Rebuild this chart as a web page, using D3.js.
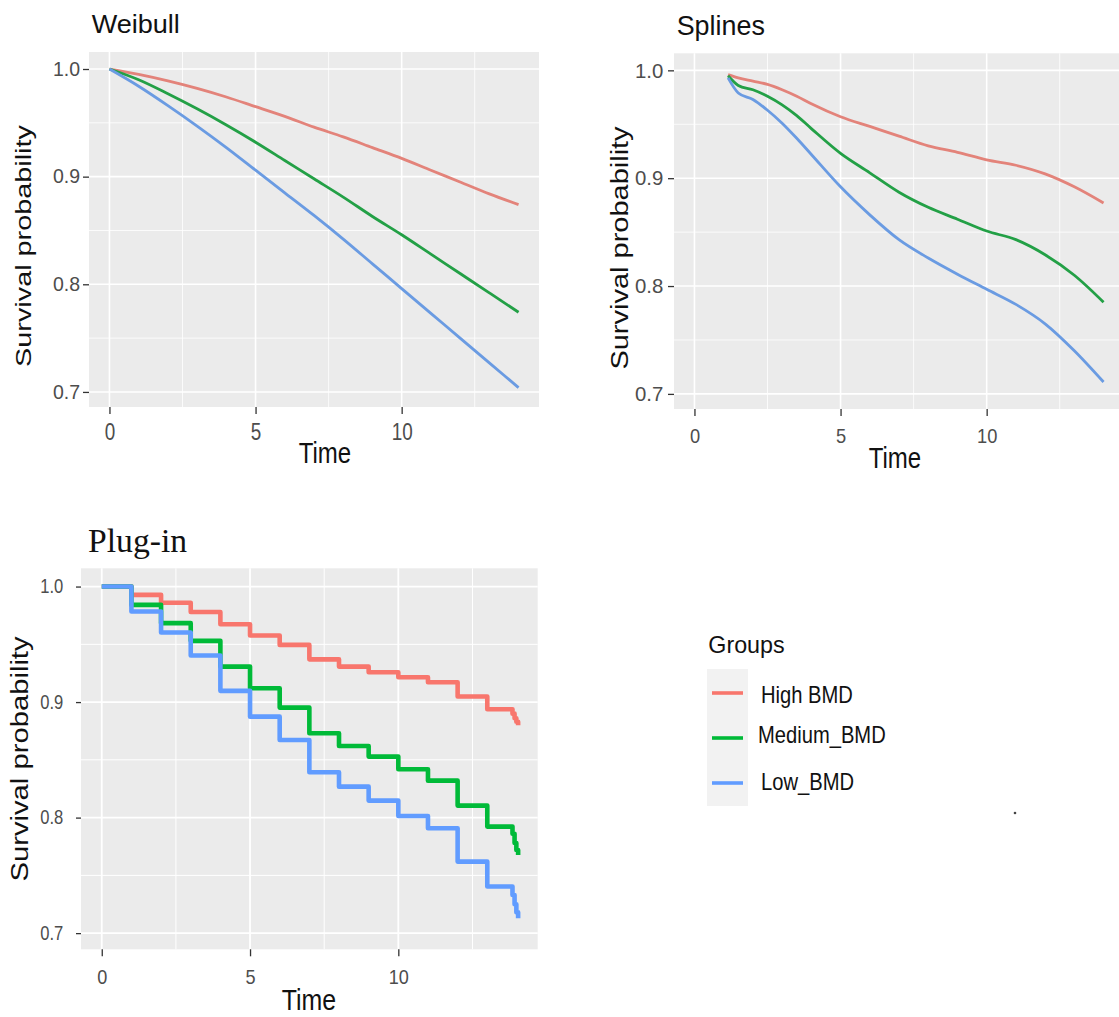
<!DOCTYPE html>
<html><head><meta charset="utf-8">
<script src="https://cdn.jsdelivr.net/npm/d3@7"></script>
<style>body{margin:0;background:#fff}svg{display:block}</style>
</head><body><svg id="chart" width="1119" height="1017"></svg>
<script>
// ---------- data ----------
const groups = ["High BMD", "Medium_BMD", "Low_BMD"];
const xTicks = [0, 5, 10];
const xMinor = [2.5, 7.5, 12.5];
const yTicks = [0.7, 0.8, 0.9, 1.0];
const yMinor = [0.75, 0.85, 0.95];
const xDomain = [-0.7, 14.7];
const yDomain = [0.686, 1.0158];

const weibullTime   = [0, 1, 2, 3, 4, 5, 6, 7, 8, 9, 10, 11, 12, 13, 14];
const weibullHigh   = [1.000, 0.995, 0.989, 0.982, 0.974, 0.965, 0.956, 0.946, 0.937, 0.927, 0.917, 0.906, 0.895, 0.884, 0.874];
const weibullMedium = [1.000, 0.990, 0.977, 0.963, 0.948, 0.932, 0.915, 0.898, 0.881, 0.863, 0.846, 0.828, 0.810, 0.792, 0.774];
const weibullLow    = [1.000, 0.984, 0.966, 0.947, 0.927, 0.906, 0.885, 0.864, 0.842, 0.819, 0.796, 0.773, 0.750, 0.727, 0.704];

const splineTime   = [1.15, 1.5, 2, 2.5, 3, 3.5, 4, 5, 6, 7, 8, 9, 10, 11, 12, 13, 14];
const splineHigh   = [0.996, 0.993, 0.990, 0.987, 0.982, 0.976, 0.969, 0.957, 0.948, 0.939, 0.930, 0.924, 0.917, 0.912, 0.904, 0.892, 0.877];
const splineMedium = [0.995, 0.986, 0.982, 0.976, 0.968, 0.958, 0.946, 0.923, 0.905, 0.887, 0.873, 0.862, 0.851, 0.843, 0.829, 0.810, 0.785];
const splineLow    = [0.993, 0.979, 0.973, 0.963, 0.951, 0.937, 0.922, 0.892, 0.866, 0.843, 0.826, 0.811, 0.797, 0.783, 0.765, 0.740, 0.711];

const plugTime   = [0, 1, 2, 3, 4, 5, 6, 7, 8, 9, 10, 11, 12, 13, 13.85, 13.92, 13.98, 14.04];
const plugHigh   = [1.000, 0.9928, 0.986, 0.978, 0.9674, 0.9576, 0.9495, 0.937, 0.9307, 0.9258, 0.9215, 0.9172, 0.9048, 0.8938, 0.890, 0.886, 0.883, 0.880];
const plugMedium = [1.000, 0.9841, 0.9683, 0.953, 0.9307, 0.912, 0.8952, 0.873, 0.862, 0.8528, 0.8418, 0.832, 0.8104, 0.7922, 0.786, 0.778, 0.772, 0.7677];
const plugLow    = [1.000, 0.9784, 0.9602, 0.9403, 0.9097, 0.8874, 0.8672, 0.8392, 0.8268, 0.8147, 0.8014, 0.7908, 0.7619, 0.7403, 0.733, 0.725, 0.718, 0.7128];

// ---------- styling / layout ----------
const SANS = "'Liberation Sans', Arial, sans-serif";
const SERIF = "'Liberation Serif', 'Times New Roman', serif";
const mutedColors = ["#E3837A", "#23A046", "#6A9BE2"];
const brightColors = ["#F8766D", "#00BA38", "#619CFF"];

const panels = [
  { title: "Weibull", tFont: SANS, tSize: 26, tFactor: 1.04, tX: 91.7, tY: 33.3,
    left: 89, right: 539, top: 52, bottom: 407,
    time: weibullTime, series: [weibullHigh, weibullMedium, weibullLow],
    colors: mutedColors, lw: 2.8, curve: d3.curveMonotoneX, grid: [1.6, 0.8],
    yTS: 6, yTP: 3, yTF: 19.5, yTFac: 1.0,
    xTS: 7, xTB: 33, xTF: 23, xTFac: 0.82,
    ytX: 30.5, ytY: 246, ytF: 22, ytFac: 1.31,
    xtX: 325, xtY: 463.3, xtF: 30, xtFac: 0.8 },
  { title: "Splines", tFont: SANS, tSize: 28, tFactor: 0.96, tX: 676.7, tY: 35,
    left: 674, right: 1124, top: 53.3, bottom: 409,
    time: splineTime, series: [splineHigh, splineMedium, splineLow],
    colors: mutedColors, lw: 2.8, curve: d3.curveMonotoneX, grid: [1.6, 0.8],
    yTS: 6, yTP: 4.7, yTF: 21, yTFac: 0.97,
    xTS: 7, xTB: 34, xTF: 21, xTFac: 0.87,
    ytX: 628, ytY: 248, ytF: 23, ytFac: 1.26,
    xtX: 895, xtY: 468.3, xtF: 30, xtFac: 0.8 },
  { title: "Plug-in", tFont: SERIF, tSize: 33, tFactor: 1.02, tX: 88, tY: 552,
    left: 81, right: 537.7, top: 568.3, bottom: 949.3,
    time: plugTime, series: [plugHigh, plugMedium, plugLow],
    colors: brightColors, lw: 4.6, curve: d3.curveStepAfter, grid: [1.8, 1.0],
    yTS: 5, yTP: 12.7, yTF: 19.5, yTFac: 0.85,
    xTS: 7, xTB: 34.7, xTF: 21, xTFac: 0.86,
    ytX: 28, ytY: 759, ytF: 23, ytFac: 1.27,
    xtX: 309, xtY: 1010, xtF: 30, xtFac: 0.83 }
];

const legendLayout = { titleX: 708.3, titleY: 653.3, bgX: 707, bgY: 669, bgW: 41, bgH: 137,
  keyX1: 712, keyX2: 743, keyY: [693, 738, 783], labX: [761, 758, 761], labY: [703.3, 743.3, 790] };

// ---------- helpers ----------
function fit(sel, factor) {
  sel.each(function () {
    const w = this.getComputedTextLength();
    if (Math.abs(factor - 1) > 0.005) {
      d3.select(this).attr("textLength", w * factor).attr("lengthAdjust", "spacingAndGlyphs");
    }
  });
}

const svg = d3.select("#chart");

panels.forEach(p => {
  const x = d3.scaleLinear().domain(xDomain).range([p.left, p.right]);
  const y = d3.scaleLinear().domain(yDomain).range([p.bottom, p.top]);
  const g = svg.append("g");

  g.append("rect").attr("x", p.left).attr("y", p.top)
    .attr("width", p.right - p.left).attr("height", p.bottom - p.top).attr("fill", "#EBEBEB");

  // minor grid
  g.selectAll(".vmin").data(xMinor).join("line")
    .attr("x1", d => x(d)).attr("x2", d => x(d)).attr("y1", p.top).attr("y2", p.bottom)
    .attr("stroke", "#fff").attr("stroke-width", p.grid[1]);
  g.selectAll(".hmin").data(yMinor).join("line")
    .attr("y1", d => y(d)).attr("y2", d => y(d)).attr("x1", p.left).attr("x2", p.right)
    .attr("stroke", "#fff").attr("stroke-width", p.grid[1]);
  // major grid
  g.selectAll(".vmaj").data(xTicks).join("line")
    .attr("x1", d => x(d)).attr("x2", d => x(d)).attr("y1", p.top).attr("y2", p.bottom)
    .attr("stroke", "#fff").attr("stroke-width", p.grid[0]);
  g.selectAll(".hmaj").data(yTicks).join("line")
    .attr("y1", d => y(d)).attr("y2", d => y(d)).attr("x1", p.left).attr("x2", p.right)
    .attr("stroke", "#fff").attr("stroke-width", p.grid[0]);

  // lines
  const line = d3.line().x(d => x(d[0])).y(d => y(d[1])).curve(p.curve);
  p.series.forEach((s, i) => {
    g.append("path").datum(p.time.map((t, j) => [t, s[j]]))
      .attr("d", line).attr("fill", "none").attr("stroke", p.colors[i])
      .attr("stroke-width", p.lw).attr("stroke-linejoin", "round");
  });

  // y axis
  const ya = g.append("g").attr("transform", `translate(${p.left},0)`)
    .call(d3.axisLeft(y).tickValues(yTicks).tickFormat(d3.format(".1f")).tickSize(p.yTS).tickPadding(p.yTP));
  ya.select(".domain").remove();
  ya.selectAll(".tick line").attr("stroke", "#333").attr("stroke-width", 1.3);
  ya.selectAll(".tick text").attr("font-family", SANS).attr("font-size", p.yTF)
    .attr("fill", "#4D4D4D").call(fit, p.yTFac);

  // x axis
  const xa = g.append("g").attr("transform", `translate(0,${p.bottom})`)
    .call(d3.axisBottom(x).tickValues(xTicks).tickFormat(d3.format("d")).tickSize(p.xTS));
  xa.select(".domain").remove();
  xa.selectAll(".tick line").attr("stroke", "#333").attr("stroke-width", 1.3);
  xa.selectAll(".tick text").attr("dy", null).attr("y", p.xTB)
    .attr("font-family", SANS).attr("font-size", p.xTF).attr("fill", "#4D4D4D").call(fit, p.xTFac);

  // titles
  svg.append("text").attr("x", p.tX).attr("y", p.tY).text(p.title)
    .attr("font-family", p.tFont).attr("font-size", p.tSize).attr("fill", "#111").call(fit, p.tFactor);
  svg.append("text").attr("transform", `translate(${p.ytX},${p.ytY}) rotate(-90)`)
    .attr("text-anchor", "middle").text("Survival probability")
    .attr("font-family", SANS).attr("font-size", p.ytF).attr("fill", "#111").call(fit, p.ytFac);
  svg.append("text").attr("x", p.xtX).attr("y", p.xtY).attr("text-anchor", "middle").text("Time")
    .attr("font-family", SANS).attr("font-size", p.xtF).attr("fill", "#111").call(fit, p.xtFac);
});

// ---------- legend ----------
const L = legendLayout;
const lg = svg.append("g");
lg.append("text").attr("x", L.titleX).attr("y", L.titleY).text("Groups")
  .attr("font-family", SANS).attr("font-size", 24).attr("fill", "#111").call(fit, 0.97);
lg.append("rect").attr("x", L.bgX).attr("y", L.bgY).attr("width", L.bgW).attr("height", L.bgH).attr("fill", "#F2F2F2");
groups.forEach((name, i) => {
  lg.append("line").attr("x1", L.keyX1).attr("x2", L.keyX2).attr("y1", L.keyY[i]).attr("y2", L.keyY[i])
    .attr("stroke", brightColors[i]).attr("stroke-width", 3.6);
  lg.append("text").attr("x", L.labX[i]).attr("y", L.labY[i]).text(name)
    .attr("font-family", SANS).attr("font-size", 24).attr("fill", "#111").call(fit, 0.84);
});
lg.append("circle").attr("cx", 1015).attr("cy", 813).attr("r", 1.3).attr("fill", "#444");
</script></body></html>
